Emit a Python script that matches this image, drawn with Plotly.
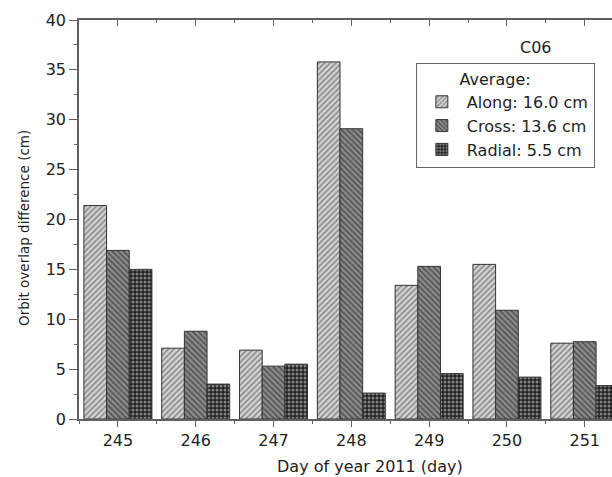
import plotly.graph_objects as go

days = [245, 246, 247, 248, 249, 250, 251]
along = [21.4, 7.1, 6.9, 35.8, 13.4, 15.5, 7.6]
cross = [16.9, 8.8, 5.3, 29.1, 15.3, 10.9, 7.75]
radial = [15.0, 3.5, 5.5, 2.6, 4.55, 4.2, 3.35]
names = ["Along: 16.0 cm", "Cross: 13.6 cm", "Radial: 5.5 cm"]

FONT = "DejaVu Sans, Arial, sans-serif"
AX = "#606060"

fig = go.Figure()
styles = [
    dict(shape="/", bgcolor="#d4d4d4", fgcolor="#3c3c3c", size=4, solidity=0.4),
    dict(shape="\\", bgcolor="#8c8c8c", fgcolor="#1a1a1a", size=4, solidity=0.45),
    dict(shape=".", bgcolor="#222222", fgcolor="#e4e4e4", size=4, solidity=0.45),
]
for vals, nm, st in zip([along, cross, radial], names, styles):
    fig.add_trace(go.Bar(
        x=days, y=vals, name=nm,
        marker=dict(color=st["bgcolor"], pattern=dict(fillmode="overlay", **st),
                    line=dict(color="#333333", width=1)),
    ))

fig.add_trace(go.Scatter(x=[days[0]], y=[None], xaxis="x2", showlegend=False, hoverinfo="skip"))

fig.update_layout(
    width=612, height=477,
    margin=dict(l=79, r=0, t=20, b=58),
    plot_bgcolor="white", paper_bgcolor="white",
    barmode="group", bargap=0.126, bargroupgap=0,
    font=dict(family=FONT, size=16, color="#1e1e1e"),
    xaxis=dict(
        range=[244.5, 251.35], tickmode="linear", tick0=245, dtick=1,
        showline=True, linecolor=AX, linewidth=1.5, showgrid=False, zeroline=False,
        ticks="outside", ticklen=6, tickcolor=AX, tickwidth=1,
        minor=dict(ticks="outside", ticklen=3, tick0=244.5, dtick=0.5, tickcolor=AX),
        tickfont=dict(size=16),
    ),
    xaxis2=dict(
        overlaying="x", side="top", matches="x", range=[244.5, 251.35],
        tickmode="linear", tick0=245, dtick=1, showticklabels=False,
        showline=True, linecolor=AX, linewidth=1.5, showgrid=False, zeroline=False,
        ticks="inside", ticklen=6, tickcolor=AX,
        minor=dict(ticks="inside", ticklen=3, tick0=244.5, dtick=0.5, tickcolor=AX),
    ),
    yaxis=dict(
        range=[0, 40], tickmode="linear", dtick=5,
        showline=True, linecolor=AX, linewidth=1.5, showgrid=False, zeroline=False,
        ticks="outside", ticklen=8, tickcolor=AX,
        minor=dict(ticks="outside", ticklen=3, dtick=2.5, tickcolor=AX),
        tickfont=dict(size=16),
    ),
    legend=dict(
        x=0.632, y=0.892, xanchor="left", yanchor="top",
        bordercolor="#666666", borderwidth=1, bgcolor="white",
        title=dict(text="        Average:", font=dict(size=16)),
        font=dict(size=16), tracegroupgap=0, itemwidth=40,
    ),
    annotations=[
        dict(text="C06", x=0.857, y=0.93, xref="paper", yref="paper",
             xanchor="center", yanchor="middle", showarrow=False, font=dict(size=16)),
        dict(text="Day of year 2011 (day)", x=0.546, y=-0.1203, xref="paper", yref="paper",
             xanchor="center", yanchor="middle", showarrow=False, font=dict(size=16)),
        dict(text="Orbit overlap difference (cm)", x=-0.1032, y=0.4787, xref="paper", yref="paper",
             xanchor="center", yanchor="middle", textangle=-90, showarrow=False,
             font=dict(size=13.5)),
    ],
)

fig.write_html("out.html")
